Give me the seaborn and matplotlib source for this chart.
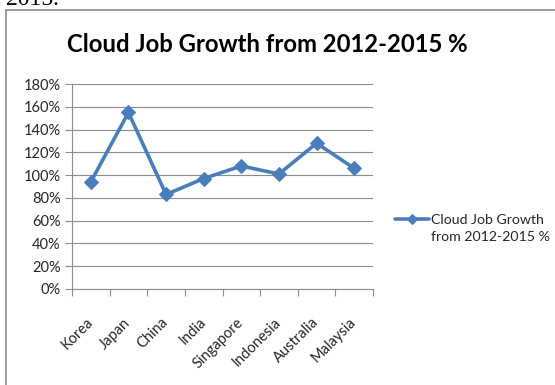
import matplotlib
matplotlib.use("Agg")
import matplotlib.pyplot as plt
from matplotlib.lines import Line2D
from matplotlib.ticker import FixedLocator, PercentFormatter
import matplotlib.transforms as mtransforms
import seaborn as sns
import pandas as pd

# Data
countries = ["Korea", "Japan", "China", "India", "Singapore",
             "Indonesia", "Australia", "Malaysia"]
growth = [0.94, 1.55, 0.83, 0.97, 1.08, 1.01, 1.28, 1.06]
y_ticks = [0.0, 0.2, 0.4, 0.6, 0.8, 1.0, 1.2, 1.4, 1.6, 1.8]
series_name = "Cloud Job Growth\nfrom 2012-2015 %"
title = "Cloud Job Growth from 2012-2015 %"

df = pd.DataFrame({"Country": countries, "Growth": growth})

sns.set_theme(style="white")
plt.rcParams["font.family"] = ["Lato", "DejaVu Sans"]

W, H = 555, 385
fig = plt.figure(figsize=(W / 100, H / 100), dpi=100)
fig.patch.set_facecolor("white")

ax = fig.add_axes([72 / W, 1 - 289 / H, (373 - 72) / W, (289 - 84) / H])

blue = "#4A7EBB"
grid_gray = "#8C8C8C"
label_color = "#262626"

sns.lineplot(data=df, x="Country", y="Growth", ax=ax, sort=False,
             color=blue, linewidth=2.6, marker="D", markersize=7.5,
             markeredgecolor=blue, markerfacecolor=blue,
             label=series_name)

ax.set_xlim(-0.5, len(countries) - 0.5)
ax.set_ylim(0, 1.8)
ax.set_xlabel("")
ax.set_ylabel("")

# y axis: percent labels with gridlines
ax.yaxis.set_major_locator(FixedLocator(y_ticks))
ax.yaxis.set_major_formatter(PercentFormatter(1.0, decimals=0))
ax.grid(axis="y", color=grid_gray, linewidth=0.8)
ax.grid(axis="x", visible=False)
ax.set_axisbelow(True)

# category labels centred, boundary tick marks between categories
ax.set_xticks(range(len(countries)))
ax.set_xticklabels(countries, rotation=45, ha="right", rotation_mode="anchor")
ax.tick_params(axis="x", which="major", length=0, pad=19,
               labelsize=10.5, labelcolor=label_color)
shift = mtransforms.ScaledTranslation(-5 / 100, 0, fig.dpi_scale_trans)
for lbl in ax.get_xticklabels():
    lbl.set_transform(lbl.get_transform() + shift)
ax.xaxis.set_minor_locator(FixedLocator([i - 0.5 for i in range(len(countries) + 1)]))
ax.tick_params(axis="x", which="minor", bottom=True, length=5,
               width=0.8, color=grid_gray, direction="out")
ax.tick_params(axis="y", left=True, length=5, width=0.8, color=grid_gray,
               labelsize=10.5, labelcolor=label_color, pad=3)

for side in ["top", "right"]:
    ax.spines[side].set_visible(False)
for side in ["left", "bottom"]:
    ax.spines[side].set_color(grid_gray)
    ax.spines[side].set_linewidth(0.8)

leg = ax.legend(loc="upper left", bbox_to_anchor=(395 / W, 1 - 214 / H),
                bbox_transform=fig.transFigure, frameon=False, fontsize=10.2,
                handlelength=2.4, handletextpad=0.15, borderaxespad=0,
                borderpad=0, labelspacing=0)
for t in leg.get_texts():
    t.set_color(label_color)
    t.set_linespacing(1.5)
for h in leg.legend_handles:
    h.set_markersize(5.5)
# keep the legend key level with the first line of its label
try:
    for col in leg._legend_handle_box.get_children():
        for item in col.get_children():
            item.align = "top"
except AttributeError:
    pass

fig.text(267 / W, 1 - 44 / H, title, ha="center", va="center",
         fontsize=17.2, fontweight="bold", color="black")

# chart frame
frame_kw = dict(color="#8C8C8C", linewidth=1.2, transform=fig.transFigure)
fig.add_artist(Line2D([6 / W, 1], [1 - 10 / H, 1 - 10 / H], **frame_kw))
fig.add_artist(Line2D([6 / W, 6 / W], [1 - 10 / H, 0], **frame_kw))

# tail of the preceding document line, clipped by the top edge
fig.text(6 / W, 1 - 5 / H, "2015.", ha="left", va="baseline",
         fontsize=17, family="Liberation Serif", color="black")

fig.savefig("out.png", dpi=100)
